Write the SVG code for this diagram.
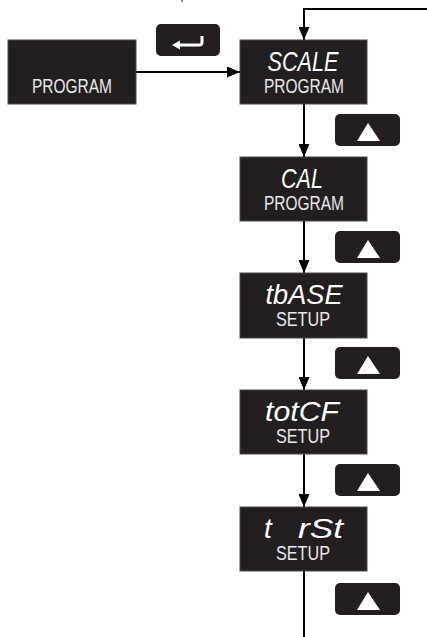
<svg xmlns="http://www.w3.org/2000/svg" width="427" height="637" viewBox="0 0 427 637">
<style>
.box{fill:#231f20;stroke:#4a4a4a;stroke-width:1}
.btn{fill:#231f20}
.top{font-family:"Liberation Sans",Arial,sans-serif;font-size:28px;font-style:italic;fill:#ffffff;text-anchor:middle}
.bot{font-family:"Liberation Sans",Arial,sans-serif;font-size:20px;fill:#e8e8e8;text-anchor:middle}
.ln{stroke:#000;stroke-width:2;fill:none}
</style>
<defs>
<marker id="ah" markerUnits="userSpaceOnUse" markerWidth="13" markerHeight="11" refX="13" refY="5.5" orient="auto">
<path d="M0,0 L13,5.5 L0,11 z" fill="#000"/>
</marker>
<symbol id="up" viewBox="0 0 65 32"><rect x="0" y="0" width="65" height="32" rx="5" fill="#231f20"/><polygon points="33,9 45,27 22,27" fill="#fff"/></symbol>
</defs>
<rect x="181" y="0" width="2" height="2" fill="#888"/>
<g id="connectors">
<line class="ln" x1="136" y1="72" x2="240" y2="72" marker-end="url(#ah)"/>
<polyline class="ln" points="427,9 304,9 304,40" marker-end="url(#ah)"/>
<line class="ln" x1="304" y1="104" x2="304" y2="157" marker-end="url(#ah)"/>
<line class="ln" x1="304" y1="221" x2="304" y2="273" marker-end="url(#ah)"/>
<line class="ln" x1="304" y1="338" x2="304" y2="390" marker-end="url(#ah)"/>
<line class="ln" x1="304" y1="454" x2="304" y2="507" marker-end="url(#ah)"/>
<line class="ln" x1="304" y1="571" x2="304" y2="637"/>
</g>
<g id="program">
<rect class="box" x="8" y="40" width="128" height="64"/>
<text class="bot" x="72" y="93" textLength="80" lengthAdjust="spacingAndGlyphs">PROGRAM</text>
</g>
<g id="enter-btn">
<rect class="btn" x="156" y="24" width="64" height="32" rx="5"/>
<path d="M202,36 L202,42 Q202,45 199,45 L179,45" stroke="#fff" stroke-width="3" fill="none"/>
<polygon points="172,45 180,40.5 180,49.5" fill="#fff"/>
</g>
<g id="scale">
<rect class="box" x="240" y="40" width="127" height="64"/>
<text class="top" x="303" y="71" textLength="71" lengthAdjust="spacingAndGlyphs">SCALE</text>
<text class="bot" x="304" y="93" textLength="80" lengthAdjust="spacingAndGlyphs">PROGRAM</text>
</g>
<g id="cal">
<rect class="box" x="240" y="157" width="127" height="64"/>
<text class="top" x="302" y="188" textLength="42" lengthAdjust="spacingAndGlyphs">CAL</text>
<text class="bot" x="304" y="210" textLength="80" lengthAdjust="spacingAndGlyphs">PROGRAM</text>
</g>
<g id="tbase">
<rect class="box" x="240" y="273" width="127" height="65"/>
<text class="top" x="304" y="304" textLength="77" lengthAdjust="spacingAndGlyphs">tbASE</text>
<text class="bot" x="303" y="326" textLength="54" lengthAdjust="spacingAndGlyphs">SETUP</text>
</g>
<g id="totcf">
<rect class="box" x="240" y="390" width="127" height="64"/>
<text class="top" x="302" y="421" textLength="74" lengthAdjust="spacingAndGlyphs">totCF</text>
<text class="bot" x="303" y="443" textLength="54" lengthAdjust="spacingAndGlyphs">SETUP</text>
</g>
<g id="trst">
<rect class="box" x="240" y="507" width="127" height="64"/>
<text class="top" x="264" y="538" style="text-anchor:start">t <tspan x="298" textLength="45" lengthAdjust="spacingAndGlyphs">rSt</tspan></text>
<text class="bot" x="303" y="560" textLength="54" lengthAdjust="spacingAndGlyphs">SETUP</text>
</g>
<g id="up-buttons">
<use href="#up" x="335" y="114" width="65" height="32"/>
<use href="#up" x="335" y="231" width="65" height="32"/>
<use href="#up" x="335" y="347" width="65" height="32"/>
<use href="#up" x="335" y="464" width="65" height="32"/>
<use href="#up" x="335" y="583" width="65" height="32"/>
</g>
</svg>
